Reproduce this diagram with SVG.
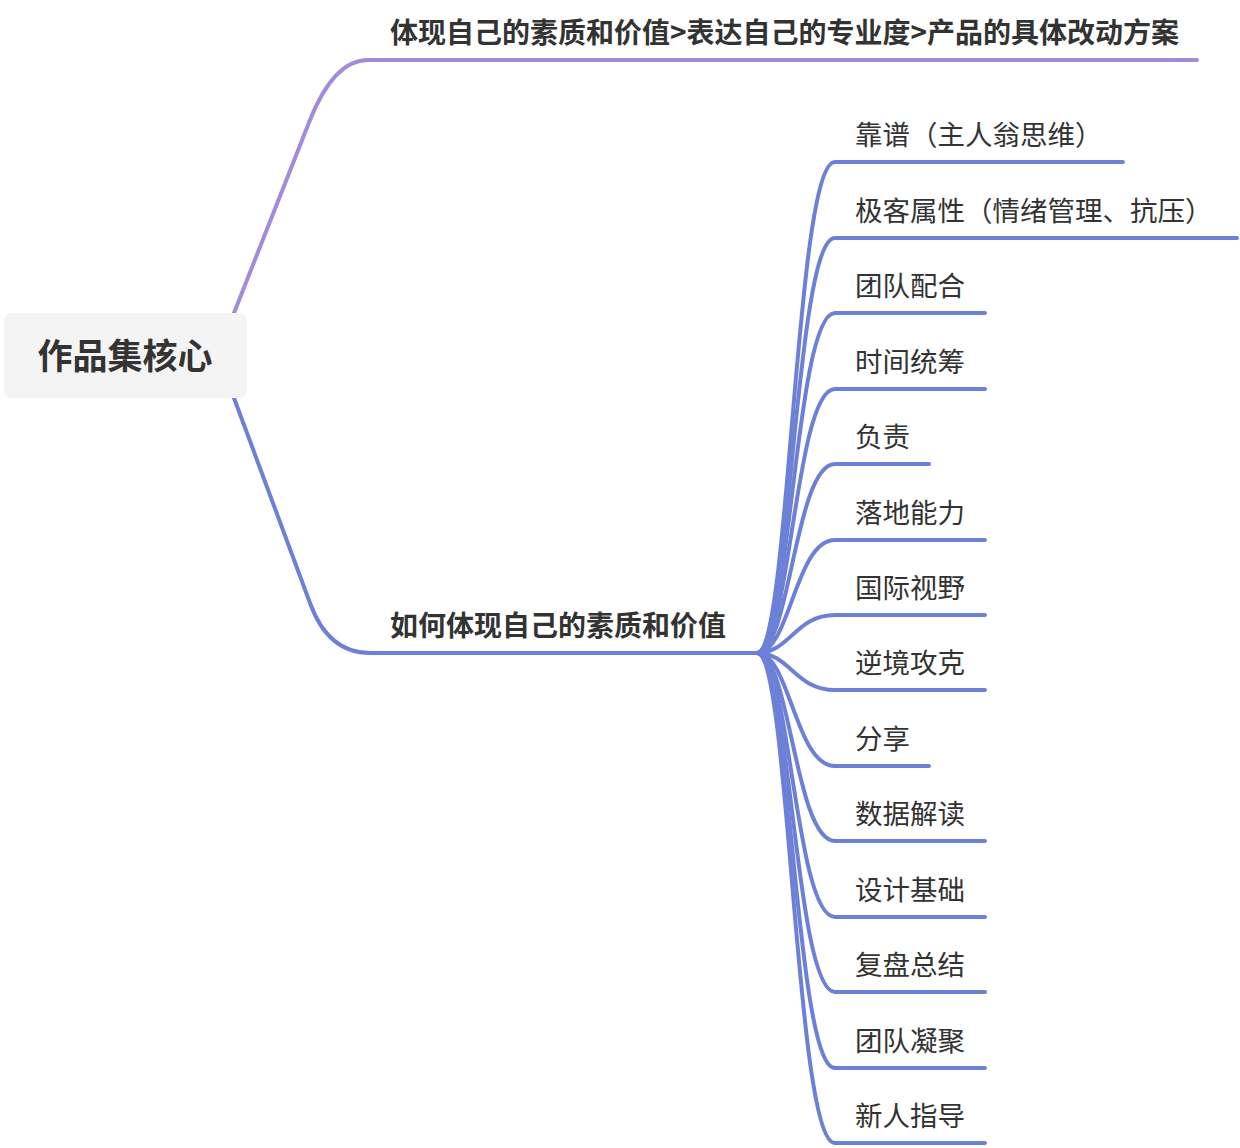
<svg xmlns="http://www.w3.org/2000/svg" width="1240" height="1148" viewBox="0 0 1240 1148">
<style>
.c{fill:none;stroke-width:4;stroke-linecap:round;stroke-linejoin:round}
.p{stroke:#a48bda}
.b{stroke:#6d80d8}
.t{font-family:"Noto Sans CJK SC","Noto Sans",sans-serif;fill:#333333}
.main{font-size:28px;font-weight:bold}
.sub{font-size:27.5px}
.root{font-size:35px;font-weight:bold}
</style>
<rect width="1240" height="1148" fill="#ffffff"/>
<g id="connectors">
<path class="c p" d="M234 313 L310 120 Q334 60 368 60 L1197 60"/>
<path class="c b" d="M234 398 L310 603 Q328 653 370 653 L757 653"/>
<path class="c b" d="M757 653 C790 653 795 162 835 162 L1123 162"/>
<path class="c b" d="M757 653 C790 653 795 238 835 238 L1237 238"/>
<path class="c b" d="M757 653 C790 653 795 313 835 313 L985 313"/>
<path class="c b" d="M757 653 C790 653 795 389 835 389 L985 389"/>
<path class="c b" d="M757 653 C790 653 795 464 835 464 L929 464"/>
<path class="c b" d="M757 653 C790 653 795 540 835 540 L985 540"/>
<path class="c b" d="M757 653 C790 653 795 615 835 615 L985 615"/>
<path class="c b" d="M757 653 C790 653 795 690 835 690 L985 690"/>
<path class="c b" d="M757 653 C790 653 795 766 835 766 L929 766"/>
<path class="c b" d="M757 653 C790 653 795 841 835 841 L985 841"/>
<path class="c b" d="M757 653 C790 653 795 917 835 917 L985 917"/>
<path class="c b" d="M757 653 C790 653 795 992 835 992 L985 992"/>
<path class="c b" d="M757 653 C790 653 795 1068 835 1068 L985 1068"/>
<path class="c b" d="M757 653 C790 653 795 1143 835 1143 L985 1143"/>
</g>
<g id="root">
<rect x="4" y="313" width="243" height="85" rx="8" fill="#f4f4f4"/>
<text class="t root" x="125" y="369" text-anchor="middle">作品集核心</text>
</g>
<g id="n1"><text class="t main" x="390" y="43">体现自己的素质和价值&gt;表达自己的专业度&gt;产品的具体改动方案</text></g>
<g id="n2"><text class="t main" x="390" y="636">如何体现自己的素质和价值</text></g>
<g id="c1"><text class="t sub" x="855" y="145">靠谱（主人翁思维）</text></g>
<g id="c2"><text class="t sub" x="855" y="221">极客属性（情绪管理、抗压）</text></g>
<g id="c3"><text class="t sub" x="855" y="296">团队配合</text></g>
<g id="c4"><text class="t sub" x="855" y="372">时间统筹</text></g>
<g id="c5"><text class="t sub" x="855" y="447">负责</text></g>
<g id="c6"><text class="t sub" x="855" y="523">落地能力</text></g>
<g id="c7"><text class="t sub" x="855" y="598">国际视野</text></g>
<g id="c8"><text class="t sub" x="855" y="673">逆境攻克</text></g>
<g id="c9"><text class="t sub" x="855" y="749">分享</text></g>
<g id="c10"><text class="t sub" x="855" y="824">数据解读</text></g>
<g id="c11"><text class="t sub" x="855" y="900">设计基础</text></g>
<g id="c12"><text class="t sub" x="855" y="975">复盘总结</text></g>
<g id="c13"><text class="t sub" x="855" y="1051">团队凝聚</text></g>
<g id="c14"><text class="t sub" x="855" y="1126">新人指导</text></g>
</svg>
